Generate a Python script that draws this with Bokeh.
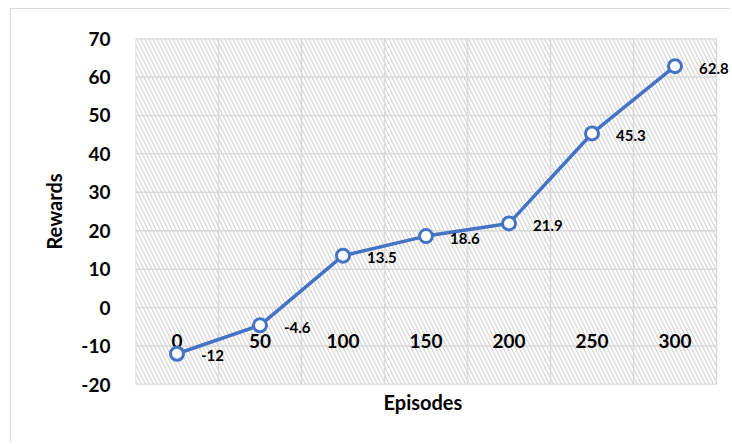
from bokeh.plotting import figure
from bokeh.models import ColumnDataSource, FixedTicker, Range1d, LabelSet, Title
from bokeh.core.properties import value
from bokeh.embed import file_html
from bokeh.resources import INLINE

episodes = [0, 50, 100, 150, 200, 250, 300]
episode_labels = ["0", "50", "100", "150", "200", "250", "300"]
rewards = [-12, -4.6, 13.5, 18.6, 21.9, 45.3, 62.8]
reward_labels = ["-12", "-4.6", "13.5", "18.6", "21.9", "45.3", "62.8"]
y_ticks = [-20, -10, 0, 10, 20, 30, 40, 50, 60, 70]

FONT = "Lato"
BLUE = "#4472C4"
GRID = "#d9d9d9"

X0, X1 = -25, 325          # category band edges of the plot area
W, BL = 720, 124
area_px = 581
x_end = X0 + (X1 - X0) * (W - BL) / area_px   # frame reaches canvas edge so labels are not cut

p = figure(width=W, height=434, output_backend="svg", toolbar_location=None,
           x_range=Range1d(X0, x_end), y_range=Range1d(-20, 70),
           min_border_left=BL, min_border_right=0, min_border_top=29, min_border_bottom=59)
p.styles = {"border-left": "1px solid #d9d9d9", "border-top": "1px solid #d9d9d9",
            "margin-left": "10px", "margin-top": "8px"}
p.outline_line_color = None

# hatched plot area with its border
q = p.quad(left=[X0], right=[X1], bottom=[-20], top=[70], fill_color="white",
           line_color=GRID, line_width=1.5, hatch_pattern="\\", hatch_color="#d4d4d4",
           hatch_scale=8, hatch_weight=1.2)
q.level = "image"

p.xgrid.ticker = FixedTicker(ticks=[e + 25 for e in episodes[:-1]])
p.xgrid.grid_line_color = GRID
p.xgrid.grid_line_width = 1.5
p.ygrid.grid_line_color = None
p.segment(x0=[X0] * len(y_ticks), x1=[X1] * len(y_ticks), y0=y_ticks, y1=y_ticks,
          line_color=GRID, line_width=1.5)

p.yaxis.ticker = FixedTicker(ticks=y_ticks)
p.yaxis.major_label_overrides = {t: str(t) for t in y_ticks}
p.yaxis.axis_line_color = None
p.yaxis.major_tick_line_color = None
p.yaxis.minor_tick_line_color = None
p.yaxis.major_label_standoff = 19
p.yaxis.major_label_text_font = FONT
p.yaxis.major_label_text_font_style = "bold"
p.yaxis.major_label_text_font_size = "19px"
p.yaxis.major_label_text_color = "black"
p.yaxis.axis_label = "Rewards"
p.yaxis.axis_label_text_font = FONT
p.yaxis.axis_label_text_font_style = "bold"
p.yaxis.axis_label_text_font_size = "20px"
p.yaxis.axis_label_text_color = "black"
p.yaxis.axis_label_standoff = 12

p.xaxis.visible = False
p.add_layout(Title(text="Episodes", align="left", offset=248, standoff=6,
                   text_font=FONT, text_font_style="bold", text_font_size="20px",
                   text_color="black"), "below")

# category labels sitting near the zero line
src_lab = ColumnDataSource(dict(x=episodes, y=[-8.6] * len(episodes), t=episode_labels))
p.text(x="x", y="y", text="t", source=src_lab, text_font=value(FONT),
       text_font_style="bold", text_font_size="19px", text_align="center",
       text_baseline="middle", text_color="black")

src = ColumnDataSource(dict(x=episodes, y=rewards, t=reward_labels))
p.line(x="x", y="y", source=src, line_color=BLUE, line_width=3.5)
p.scatter(x="x", y="y", source=src, size=13, marker="circle", fill_color="white",
          line_color=BLUE, line_width=3)
labels = LabelSet(x="x", y="y", text="t", source=src, text_font=value(FONT),
                  text_font_style="bold", text_font_size="15px", text_align="left",
                  text_baseline="middle", text_color="black", x_offset=24, y_offset=-2)
p.add_layout(labels)

open("out.html", "w").write(file_html(p, INLINE))
